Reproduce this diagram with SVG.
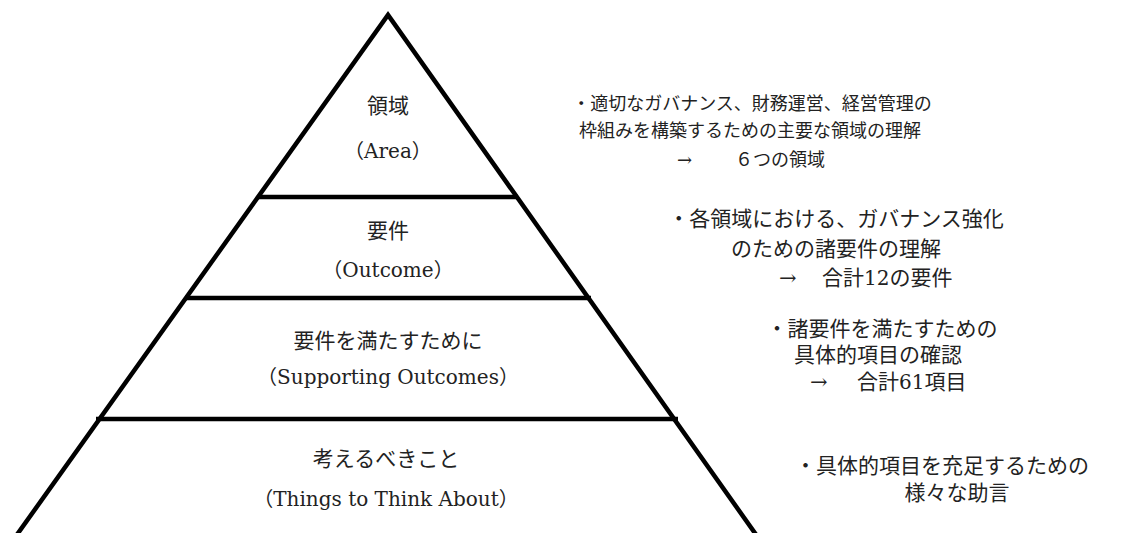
<svg xmlns="http://www.w3.org/2000/svg" width="1121" height="533" viewBox="0 0 1121 533">
<style>
.ln{stroke:#000;stroke-width:4.5;fill:none;stroke-linecap:butt;stroke-linejoin:miter}
.t{font-family:"DejaVu Serif","Noto Sans CJK JP",serif;font-size:21px;fill:#222}
.s{font-size:18px}
.l{font-size:20px}
.c{text-anchor:middle}
</style>
<rect width="1121" height="533" fill="#fff"/>
<g id="connectors">
<path class="ln" d="M16,536 L388,15 L757,536"/>
<line class="ln" x1="258" y1="197" x2="518" y2="197"/>
<line class="ln" x1="185" y1="298" x2="591" y2="298"/>
<line class="ln" x1="96" y1="419" x2="678" y2="419"/>
</g>
<g id="node-area">
<text class="t c" x="388" y="113">領域</text>
<text class="t l c" x="388" y="158">（Area）</text>
</g>
<g id="node-outcome">
<text class="t c" x="388" y="238">要件</text>
<text class="t l c" x="388" y="277">（Outcome）</text>
</g>
<g id="node-supporting">
<text class="t c" x="388" y="348">要件を満たすために</text>
<text class="t l c" x="388" y="384">（Supporting Outcomes）</text>
</g>
<g id="node-things">
<text class="t c" x="386" y="466">考えるべきこと</text>
<text class="t l c" x="386" y="506">（Things to Think About）</text>
</g>
<g id="desc-area">
<text class="t s c" x="752" y="110">・適切なガバナンス、財務運営、経営管理の</text>
<text class="t s c" x="750" y="137">枠組みを構築するための主要な領域の理解</text>
<text class="t s" x="677" y="166">→<tspan x="735">６つの領域</tspan></text>
</g>
<g id="desc-outcome">
<text class="t c" x="836" y="226">・各領域における、ガバナンス強化</text>
<text class="t c" x="836" y="256">のための諸要件の理解</text>
<text class="t" x="779" y="285">→<tspan x="822">合計</tspan><tspan class="l">12</tspan>の要件</text>
</g>
<g id="desc-supporting">
<text class="t c" x="882" y="336">・諸要件を満たすための</text>
<text class="t c" x="878" y="362">具体的項目の確認</text>
<text class="t" x="810" y="389">→<tspan x="857">合計</tspan><tspan class="l">61</tspan>項目</text>
</g>
<g id="desc-things">
<text class="t c" x="942" y="473">・具体的項目を充足するための</text>
<text class="t c" x="957" y="500">様々な助言</text>
</g>
</svg>
